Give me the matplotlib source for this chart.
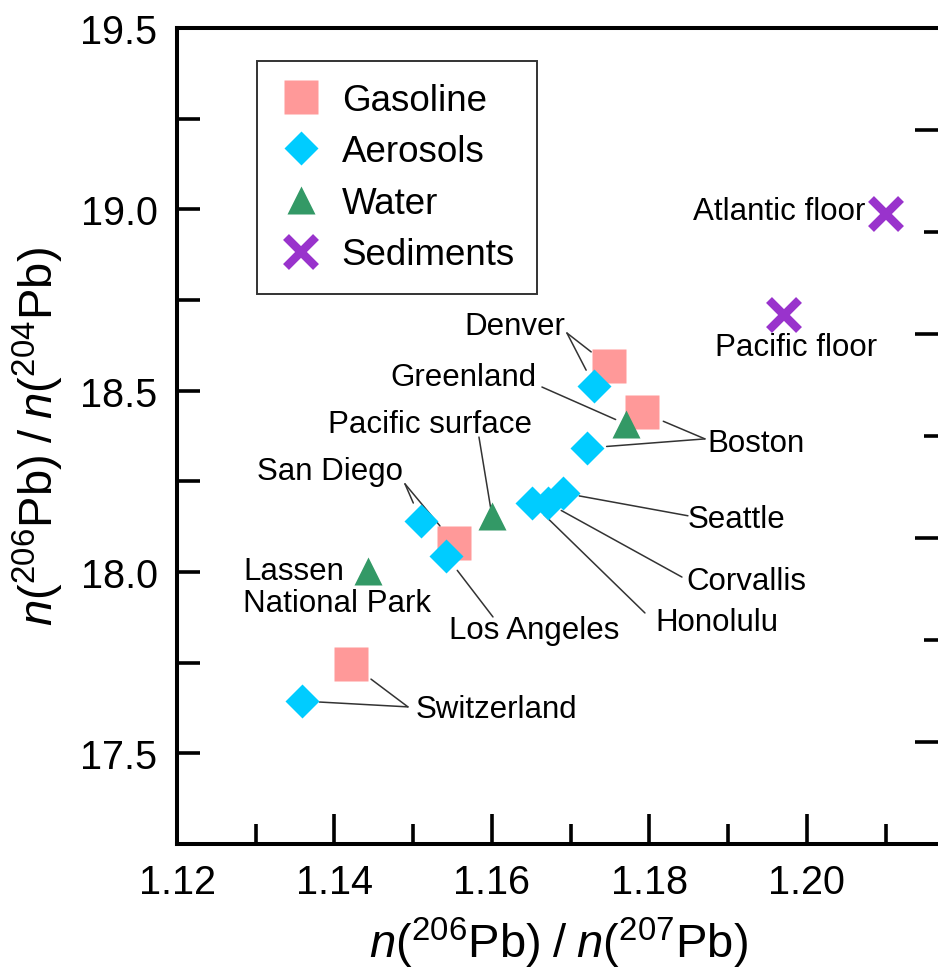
import matplotlib
matplotlib.use("Agg")
import matplotlib.pyplot as plt

plt.rcParams['font.family'] = ['Liberation Sans', 'DejaVu Sans']
plt.rcParams['mathtext.fontset'] = 'custom'
plt.rcParams['mathtext.rm'] = 'Liberation Sans'
plt.rcParams['mathtext.it'] = 'Liberation Sans:italic'

# 206Pb/207Pb (x) and 206Pb/204Pb (y)
gas_names = ['Denver', 'Boston', 'San Diego', 'Switzerland']
gas_x = [1.1749, 1.1790, 1.1552, 1.1421]
gas_y = [18.568, 18.441, 18.080, 17.746]

aer_names = ['Denver', 'Boston', 'Honolulu', 'Corvallis', 'Seattle',
             'San Diego', 'Los Angeles', 'Switzerland']
aer_x = [1.1730, 1.1721, 1.1651, 1.1671, 1.1690, 1.1510, 1.1542, 1.1359]
aer_y = [18.513, 18.342, 18.190, 18.190, 18.218, 18.141, 18.044, 17.644]

wat_names = ['Greenland', 'Pacific surface', 'Lassen National Park']
wat_x = [1.1770, 1.1600, 1.1443]
wat_y = [18.408, 18.155, 18.003]

sed_names = ['Atlantic floor', 'Pacific floor']
sed_x = [1.2100, 1.1971]
sed_y = [18.987, 18.709]

c_gas = '#ff9999'
c_aer = '#00ccff'
c_wat = '#339966'
c_sed = '#9933cc'

fig = plt.figure(figsize=(9.38, 9.70), dpi=100)
ax = fig.add_axes([0.1887, 0.1289, 0.8134, 0.8412])

ax.plot(gas_x, gas_y, 's', ms=24.5, color=c_gas, mec='none', label='Gasoline', zorder=3)
ax.plot(aer_x, aer_y, 'D', ms=17.5, color=c_aer, mec='none', label='Aerosols', zorder=4)
ax.plot(wat_x, wat_y, '^', ms=20, color=c_wat, mec='none', label='Water', zorder=4)
ax.plot(sed_x, sed_y, 'x', ms=22, mew=6, color=c_sed, label='Sediments', zorder=4)

ax.set_xlim(1.12, 1.2169)
ax.set_ylim(17.25, 19.5)
ax.set_xticks([1.12, 1.14, 1.16, 1.18, 1.20])
ax.set_xticks([1.13, 1.15, 1.17, 1.19, 1.21], minor=True)
ax.set_xticklabels(['1.12', '1.14', '1.16', '1.18', '1.20'])
ax.set_yticks([17.5, 18.0, 18.5, 19.0, 19.5])
ax.set_yticks([17.75, 18.25, 18.75, 19.25], minor=True)
ax.set_yticklabels(['17.5', '18.0', '18.5', '19.0', '19.5'])

for s in ax.spines.values():
    s.set_linewidth(2.9)
ax.tick_params(axis='both', which='both', direction='in', width=2.6, labelsize=28.5,
               top=False, right=False)
ax.tick_params(axis='x', which='major', length=21.5, pad=14)
ax.tick_params(axis='x', which='minor', length=14.5)
ax.tick_params(axis='y', which='both', length=16.5, pad=14)

ax.set_xlabel(r'$n({}^{206}\mathrm{Pb})\;/\;n({}^{207}\mathrm{Pb})$', fontsize=34, labelpad=10)
ax.set_ylabel(r'$n({}^{206}\mathrm{Pb})\;/\;n({}^{204}\mathrm{Pb})$', fontsize=34, labelpad=10)

# the cut-off axis on the right only shows its ticks
ax2 = ax.twinx()
ax2.set_ylim(0, 8)
ax2.set_yticks([1, 3, 5, 7])
ax2.set_yticks([2, 4, 6], minor=True)
ax2.tick_params(axis='y', which='both', direction='in', width=2.6, labelright=False)
ax2.tick_params(axis='y', which='major', length=18)
ax2.tick_params(axis='y', which='minor', length=11.5)
for s in ax2.spines.values():
    s.set_visible(False)

leg = ax.legend(loc='upper left', bbox_to_anchor=(0.105, 0.96), fontsize=26.5, numpoints=1,
                frameon=True, fancybox=False, edgecolor='#333333', framealpha=1,
                borderpad=0.6, labelspacing=0.45, handlelength=1.2, handletextpad=0.5,
                borderaxespad=0)
leg.get_frame().set_linewidth(1.4)

# labels: text, text position, alignment, junction of leader lines, targets
labels = [
    ('Denver', (1.16927, 18.678), 'right', (1.16952, 18.659),
     [(gas_x[0], gas_y[0], 16.5), (aer_x[0], aer_y[0], 12.8)]),
    ('Greenland', (1.16571, 18.538), 'right', (1.16635, 18.510),
     [(wat_x[0], wat_y[0], 8)]),
    ('Boston', (1.1873, 18.356), 'left', (1.18705, 18.367),
     [(gas_x[1], gas_y[1], 17), (aer_x[1], aer_y[1], 14)]),
    ('Pacific surface', (1.15213, 18.408), 'center', (1.15835, 18.372),
     [(wat_x[1], wat_y[1], 6)]),
    ('San Diego', (1.13943, 18.279), 'center', (1.14895, 18.243),
     [(aer_x[5], aer_y[5], 14), (gas_x[2], gas_y[2], 16)]),
    ('Lassen\nNational Park', (1.12838, 17.959), 'left', None, []),
    ('Los Angeles', (1.15454, 17.840), 'left', (1.16013, 17.876),
     [(aer_x[6], aer_y[6], 13)]),
    ('Seattle', (1.18489, 18.146), 'left', (1.18489, 18.155),
     [(aer_x[4], aer_y[4], 12)]),
    ('Corvallis', (1.18463, 17.975), 'left', (1.18413, 17.986),
     [(aer_x[3], aer_y[3], 11)]),
    ('Honolulu', (1.1807, 17.862), 'left', (1.17943, 17.887),
     [(aer_x[2], aer_y[2], 12)]),
    ('Switzerland', (1.15035, 17.622), 'left', (1.14933, 17.628),
     [(gas_x[3], gas_y[3], 18), (aer_x[7], aer_y[7], 12.5)]),
    ('Atlantic floor', (1.20737, 18.995), 'right', None, []),
    ('Pacific floor', (1.1986, 18.620), 'center', None, []),
]

for text, pos, ha, joint, targets in labels:
    ax.text(pos[0], pos[1], text, fontsize=22.5, ha=ha, va='center', linespacing=1.1,
            zorder=5)
    for tx, ty, shrink in targets:
        ax.annotate('', xy=(tx, ty), xytext=joint,
                    arrowprops=dict(arrowstyle='-', color='#333333', lw=1.1,
                                    shrinkA=0, shrinkB=shrink))

fig.savefig('out.png', dpi=100)
